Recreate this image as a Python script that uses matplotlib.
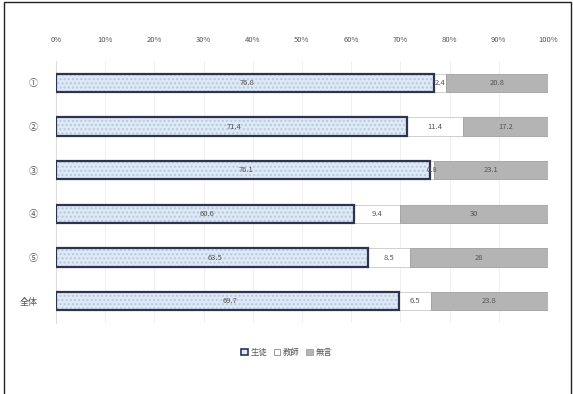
import numpy as np
import matplotlib.pyplot as plt
from matplotlib.patches import Patch, Rectangle

plt.rcParams['font.family'] = ['Noto Sans CJK JP', 'DejaVu Sans']

categories = ['①', '②', '③', '④', '⑤', '全体']
series_names = ['生徒', '教師', '無言']
v_first = [76.8, 71.4, 76.1, 60.6, 63.5, 69.7]
v_second = [2.4, 11.4, 0.8, 9.4, 8.5, 6.5]
v_third = [20.8, 17.2, 23.1, 30.0, 28.0, 23.8]
label_first = ['76.8', '71.4', '76.1', '60.6', '63.5', '69.7']
label_second = ['2.4', '11.4', '0.8', '9.4', '8.5', '6.5']
label_third = ['20.8', '17.2', '23.1', '30', '28', '23.8']
xticks = np.arange(0, 101, 10)

fig = plt.figure(figsize=(5.73, 3.94), dpi=100)
ax = fig.add_axes([0.0977, 0.18, 0.8586, 0.665])

y = np.arange(len(categories))
h = 0.42

# first series: dotted light blue with dark navy outline
ax.barh(y, v_first, height=h, color='#dde9f6', edgecolor='#b8c8dc',
        hatch='....', linewidth=0, zorder=3)
ax.barh(y, v_first, height=h, color='none', edgecolor='#2e3450',
        linewidth=1.6, zorder=4)
left2 = np.array(v_first)
ax.barh(y, v_second, left=left2, height=h, color='white',
        edgecolor='#c8c8c8', linewidth=0.6, zorder=3)
left3 = left2 + np.array(v_second)
ax.barh(y, v_third, left=left3, height=h, color='#b4b4b4',
        edgecolor='#a0a0a0', linewidth=0.6, zorder=3)

tc = '#555555'
for i in range(len(categories)):
    ax.text(v_first[i] / 2 + 0.5, y[i], label_first[i], ha='center', va='center',
            fontsize=5.5, color=tc, zorder=5)
    ax.text(left2[i] + v_second[i] / 2, y[i], label_second[i], ha='center',
            va='center', fontsize=5.5, color=tc, zorder=5)
    ax.text(left3[i] + v_third[i] / 2, y[i], label_third[i], ha='center',
            va='center', fontsize=5.5, color=tc, zorder=5)

ax.set_xlim(0, 100)
ax.set_ylim(len(categories) - 0.5, -0.5)
ax.set_xticks(xticks)
ax.set_xticklabels([f'{t}%' for t in xticks], fontsize=5.5, color=tc)
ax.xaxis.tick_top()
ax.tick_params(axis='x', length=0, pad=12)
ax.set_yticks(y)
ax.set_yticklabels(categories, fontsize=6.5, color=tc)
ax.tick_params(axis='y', length=0, pad=13)
ax.grid(axis='x', color='#eeeeee', linewidth=0.6, zorder=0)
for s in ['top', 'right', 'bottom']:
    ax.spines[s].set_visible(False)
ax.spines['left'].set_color('#dddddd')
ax.spines['left'].set_linewidth(0.8)

handles = [Patch(facecolor='#dde9f6', edgecolor='#2e3450', linewidth=1.2),
           Patch(facecolor='white', edgecolor='#888888', linewidth=0.6),
           Patch(facecolor='#b4b4b4', edgecolor='#a0a0a0', linewidth=0.6)]
fig.legend(handles, series_names, loc='center', bbox_to_anchor=(0.5, 0.105),
           ncol=3, frameon=False, fontsize=6, handlelength=0.8, handleheight=0.8,
           handletextpad=0.3, columnspacing=0.8, labelcolor=tc)

# outer frame
fig.add_artist(Rectangle((0.007, -0.01), 0.99, 1.004, transform=fig.transFigure,
                         fill=False, edgecolor='#222222', linewidth=1.0))

fig.savefig('out.png', dpi=100)
